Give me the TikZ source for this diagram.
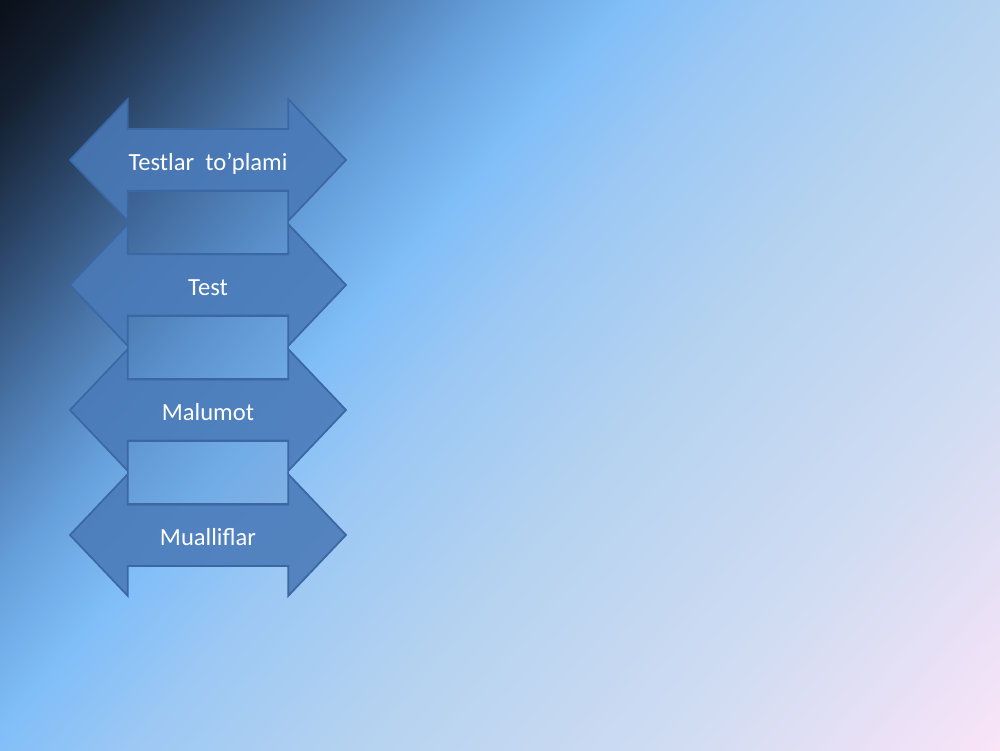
\documentclass[tikz,border=0pt]{standalone}
\usepackage{fontspec}
\setmainfont{Carlito}
\usepackage{tikz}
\usetikzlibrary{shapes.arrows}

\definecolor{bga}{HTML}{0B1019}
\definecolor{bgb}{HTML}{142030}
\definecolor{bgc}{HTML}{2A4466}
\definecolor{bgd}{HTML}{4A76AA}
\definecolor{bge}{HTML}{66A0DC}
\definecolor{bgf}{HTML}{80BEF8}
\definecolor{bgg}{HTML}{9CC8F4}
\definecolor{bgh}{HTML}{B4D2F0}
\definecolor{bgi}{HTML}{D0DCF2}
\definecolor{bgj}{HTML}{FAE4F8}
\definecolor{arrowblue}{HTML}{4A7AB8}
\definecolor{edgeblue}{HTML}{3B67A2}

\pgfdeclarehorizontalshading{slidebg}{100bp}{color(0bp)=(bga); color(25bp)=(bga); color(28bp)=(bgb); color(31.5bp)=(bgc); color(36bp)=(bgd); color(40bp)=(bge); color(44bp)=(bgf); color(48.5bp)=(bgg); color(55bp)=(bgh); color(65bp)=(bgi); color(75bp)=(bgj); color(100bp)=(bgj)}

\begin{document}
\begin{tikzpicture}[dblarrow/.style={double arrow, draw=edgeblue, line width=1pt, fill=arrowblue, fill opacity=0.88, text opacity=1, text=white, inner sep=0pt, double arrow tip angle=93, double arrow head extend=0.6cm, minimum height=5.52cm, minimum width=2.4cm, text height=0.81cm, text depth=0.39cm, font=\fontsize{14}{16}\selectfont},
	link/.style={rectangle, draw=edgeblue, line width=1pt, fill=edgeblue, fill opacity=0.2, minimum width=3.22cm, minimum height=1.3cm, inner sep=0pt}]
	\useasboundingbox (0,0) rectangle (20,15);
	\begin{scope}
		\clip (0,0) rectangle (20,15);
		\begin{scope}[transform canvas={shift={(0,15)},rotate=-40.62}]
			\shade[shading=slidebg] (0,-20) rectangle (24.95,20);
		\end{scope}
	\end{scope}
        \node at (4.16,10.55) [link] (link1) {};
        \node at (4.16,8.05) [link] (link2) {};
        \node at (4.16,5.55) [link] (link3) {};
        \node at (4.16,11.8) [dblarrow] (toplami) {Testlar\ \ to’plami};
        \node at (4.16,9.3) [dblarrow] (test) {Test};
	\node at (4.16,6.8) [dblarrow] (malumot) {Malumot};
	\node at (4.16,4.3) [dblarrow] (mualliflar) {Mualliflar};
    \end{tikzpicture}
\end{document}
